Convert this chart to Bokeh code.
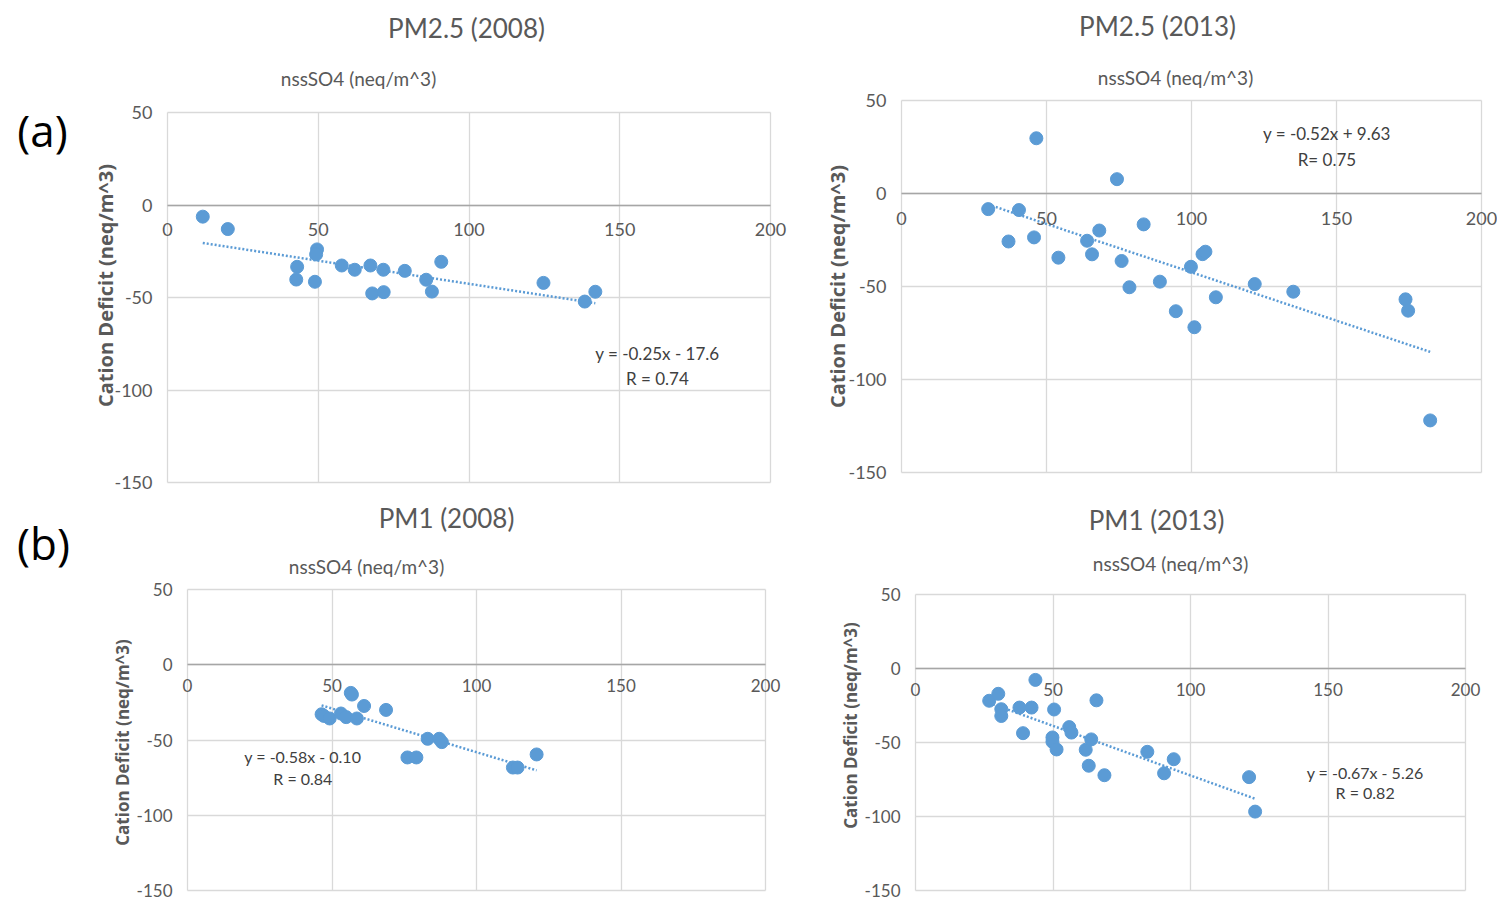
from bokeh.plotting import figure
from bokeh.models import FixedTicker, Label, Range1d, PrintfTickFormatter, Grid
from bokeh.layouts import row, column
from bokeh.embed import file_html
from bokeh.resources import INLINE

# ---------------- data ----------------
x_ticks = [0, 50, 100, 150, 200]
y_ticks = [-150, -100, -50, 0, 50]

pm25_2008_x = [11.7, 20.0, 43.0, 42.7, 49.6, 49.3, 48.9, 57.8, 62.1, 67.3, 67.9, 71.6, 71.7,
               78.7, 85.8, 87.7, 90.8, 124.7, 138.4, 141.9]
pm25_2008_y = [-6.3, -13.0, -33.4, -40.3, -24.0, -26.7, -41.5, -32.7, -35.0, -32.7, -47.8, -35.0, -47.1,
               -35.6, -40.4, -46.8, -30.7, -42.1, -52.2, -46.9]
pm25_2008_fit = [-0.25, -17.6]

pm25_2013_x = [29.9, 40.5, 46.5, 36.9, 45.7, 54.1, 64.0, 65.7, 68.2, 74.3, 75.9, 78.6, 83.5,
               89.1, 94.6, 99.8, 101.0, 103.8, 104.8, 108.4, 121.8, 135.1, 173.8, 174.7, 182.3]
pm25_2013_y = [-8.4, -8.9, 29.7, -25.8, -23.6, -34.5, -25.4, -32.7, -19.9, 7.7, -36.3, -50.4, -16.6,
               -47.4, -63.3, -39.4, -71.9, -32.6, -31.3, -55.8, -48.7, -52.8, -56.9, -63.0, -122.0]
pm25_2013_fit = [-0.52, 9.63]

pm1_2008_x = [46.4, 47.2, 49.2, 56.5, 56.9, 53.1, 54.9, 58.6, 61.1, 68.7, 76.1, 79.2, 83.1,
              87.1, 88.0, 112.6, 114.2, 120.8]
pm1_2008_y = [-32.9, -34.0, -35.7, -18.7, -19.8, -32.4, -34.8, -35.7, -27.4, -30.0, -61.6, -61.6, -49.2,
              -49.2, -51.4, -68.3, -68.3, -59.6]
pm1_2008_fit = [-0.58, -0.10]

pm1_2013_x = [26.8, 30.1, 31.2, 31.2, 37.8, 39.1, 42.2, 43.6, 49.8, 49.8, 50.4, 51.3, 55.9, 56.7,
              61.9, 63.0, 63.9, 65.8, 68.7, 84.3, 90.4, 93.9, 121.3, 123.5]
pm1_2013_y = [-21.8, -17.1, -27.5, -32.1, -26.4, -43.7, -26.4, -7.7, -46.6, -49.5, -27.7, -54.7, -39.6, -43.3,
              -54.9, -65.7, -47.9, -21.5, -72.1, -56.3, -70.8, -61.3, -73.4, -96.7]
pm1_2013_fit = [-0.67, -5.26]

titles = ["PM2.5 (2008)", "PM2.5 (2013)", "PM1 (2008)", "PM1 (2013)"]
x_title = "nssSO4 (neq/m^3)"
y_title = "Cation Deficit (neq/m^3)"
eq_texts = ["y = -0.25x - 17.6", "y = -0.52x + 9.63", "y = -0.58x - 0.10", "y = -0.67x - 5.26"]
r_texts = ["R = 0.74", "R= 0.75", "R = 0.84", "R = 0.82"]
eq_x = [162.5, 146.7, 39.9, 163.5]
eq_y = [-80.0, 32.2, -60.7, -70.1]
r_y = [-94.0, 18.4, -75.3, -84.0]
panel_tags = ["(a)", None, "(b)", None]

BLUE = "#5B9BD5"
GRID = "#d9d9d9"
TXT = "#595959"
FONT = "Lato"
X0, X1 = x_ticks[0], x_ticks[-1]
Y0, Y1 = y_ticks[0], y_ticks[-1]
HAS_CROSS = "cross_bounds" in Grid.properties()


def make_panel(i, xs, ys, fit, org, size, box, title_pos, xt_pos, tag_pos, ylab_cy,
               xlab_standoff, tick_fs, ytitle_fs, ytitle_standoff, eq_fs):
    ox, oy = org
    W, H = size
    L, R, T, B = box  # pixel box of the plot area on the page
    sx = (R - L) / (X1 - X0)
    sy = (B - T) / (Y1 - Y0)
    xr = Range1d(X0 - (L - ox) / sx, X1 + (ox + W - R) / sx)
    yr = Range1d(Y0 - (oy + H - B) / sy, Y1 + (T - oy) / sy)

    def to_data(pos):
        return (X0 + (pos[0] - L) / sx, Y1 - (pos[1] - T) / sy)

    p = figure(width=W, height=H, output_backend="svg", toolbar_location=None,
               x_range=xr, y_range=yr, min_border=0)
    p.title.visible = False
    p.background_fill_color = "white"
    p.border_fill_color = "white"
    p.outline_line_color = None

    if HAS_CROSS:
        p.xgrid.ticker = FixedTicker(ticks=x_ticks)
        p.ygrid.ticker = FixedTicker(ticks=y_ticks)
        p.xgrid.bounds = (X0, X1)
        p.ygrid.bounds = (Y0, Y1)
        p.xgrid.cross_bounds = (Y0, Y1)
        p.ygrid.cross_bounds = (X0, X1)
        for g in (p.xgrid[0], p.ygrid[0]):
            g.grid_line_color = GRID
            g.grid_line_width = 1.3
    else:
        p.xgrid.visible = False
        p.ygrid.visible = False
        p.multi_line([[t, t] for t in x_ticks], [[Y0, Y1] for t in x_ticks],
                     line_color=GRID, line_width=1.3)
        p.multi_line([[X0, X1] for t in y_ticks], [[t, t] for t in y_ticks],
                     line_color=GRID, line_width=1.3)

    xa = p.xaxis[0]
    xa.ticker = FixedTicker(ticks=x_ticks)
    xa.fixed_location = 0
    xa.bounds = (X0, X1)
    xa.axis_line_color = "#a6a6a6"
    xa.axis_line_width = 1.6
    xa.major_tick_line_color = None
    xa.minor_tick_line_color = None
    xa.major_tick_out = 0
    xa.major_label_standoff = xlab_standoff
    xa.major_label_text_font = FONT
    xa.major_label_text_font_size = tick_fs
    xa.major_label_text_color = TXT

    ya = p.yaxis[0]
    ya.ticker = FixedTicker(ticks=y_ticks)
    ya.fixed_location = X0
    # axis-label centre placed through the bounds of the (invisible) axis rule
    yc = to_data((0, ylab_cy))[1]
    if yc >= (Y0 + Y1) / 2:
        ya.bounds = (Y0, 2 * yc - Y0)
    else:
        ya.bounds = (2 * yc - Y1, Y1)
    ya.formatter = PrintfTickFormatter(format="%d")
    ya.axis_line_color = None
    ya.major_tick_line_color = None
    ya.minor_tick_line_color = None
    ya.major_tick_out = 0
    ya.major_label_standoff = 15
    ya.major_label_text_font = FONT
    ya.major_label_text_font_size = tick_fs
    ya.major_label_text_color = TXT
    ya.axis_label = y_title
    ya.axis_label_text_font = "Open Sans"
    ya.axis_label_text_font_style = "bold"
    ya.axis_label_text_font_size = ytitle_fs
    ya.axis_label_text_color = TXT
    ya.axis_label_standoff = ytitle_standoff

    # trendline from fit coefficients over data extent
    x0, x1 = min(xs), max(xs)
    p.line([x0, x1], [fit[0] * x0 + fit[1], fit[0] * x1 + fit[1]],
           line_color=BLUE, line_width=2.5, line_dash="2 2")
    p.scatter(xs, ys, size=13, marker="circle", fill_color=BLUE, line_color=BLUE)

    p.add_layout(Label(x=eq_x[i], y=eq_y[i], text=eq_texts[i], text_align="center",
                       text_baseline="middle", text_font=FONT, text_font_size=eq_fs,
                       text_color="#404040"))
    p.add_layout(Label(x=eq_x[i], y=r_y[i], text=r_texts[i], text_align="center",
                       text_baseline="middle", text_font=FONT, text_font_size=eq_fs,
                       text_color="#404040"))

    tx, ty = to_data(title_pos)
    p.add_layout(Label(x=tx, y=ty, text=titles[i], text_align="center", text_baseline="middle",
                       text_font=FONT, text_font_size="26px", text_color=TXT))
    tx, ty = to_data(xt_pos)
    p.add_layout(Label(x=tx, y=ty, text=x_title, text_align="center", text_baseline="middle",
                       text_font=FONT, text_font_size="19px", text_color=TXT))
    if panel_tags[i]:
        tx, ty = to_data(tag_pos)
        p.add_layout(Label(x=tx, y=ty, text=panel_tags[i], text_align="center",
                           text_baseline="middle", text_font="Open Sans", text_font_size="44px",
                           text_color="black"))
    return p


W1, W2 = 823, 674
H1, H2 = 494, 409

p1 = make_panel(0, pm25_2008_x, pm25_2008_y, pm25_2008_fit, (0, 0), (W1, H1),
                (167, 770, 112, 482), (466, 27), (358, 78), (42, 129), 285,
                18, "18px", "20px", -8, "17px")
p2 = make_panel(1, pm25_2013_x, pm25_2013_y, pm25_2013_fit, (W1, 0), (W2, H1),
                (901, 1481, 100, 472), (1157, 25), (1175, 77), None, 286,
                18, "18px", "20px", -6, "17px")
p3 = make_panel(2, pm1_2008_x, pm1_2008_y, pm1_2008_fit, (0, H1), (W1, H2),
                (187, 765, 589, 890), (446, 517), (366, 566), (43, 542), 742,
                14, "17px", "17px", 0, "16px")
p4 = make_panel(3, pm1_2013_x, pm1_2013_y, pm1_2013_fit, (W1, H1), (W2, H2),
                (915, 1465, 594, 890), (1156, 519), (1170, 563), None, 725,
                14, "17px", "17px", 0, "16px")

layout = column(row(p1, p2), row(p3, p4))
open("out.html", "w").write(file_html(layout, INLINE))
